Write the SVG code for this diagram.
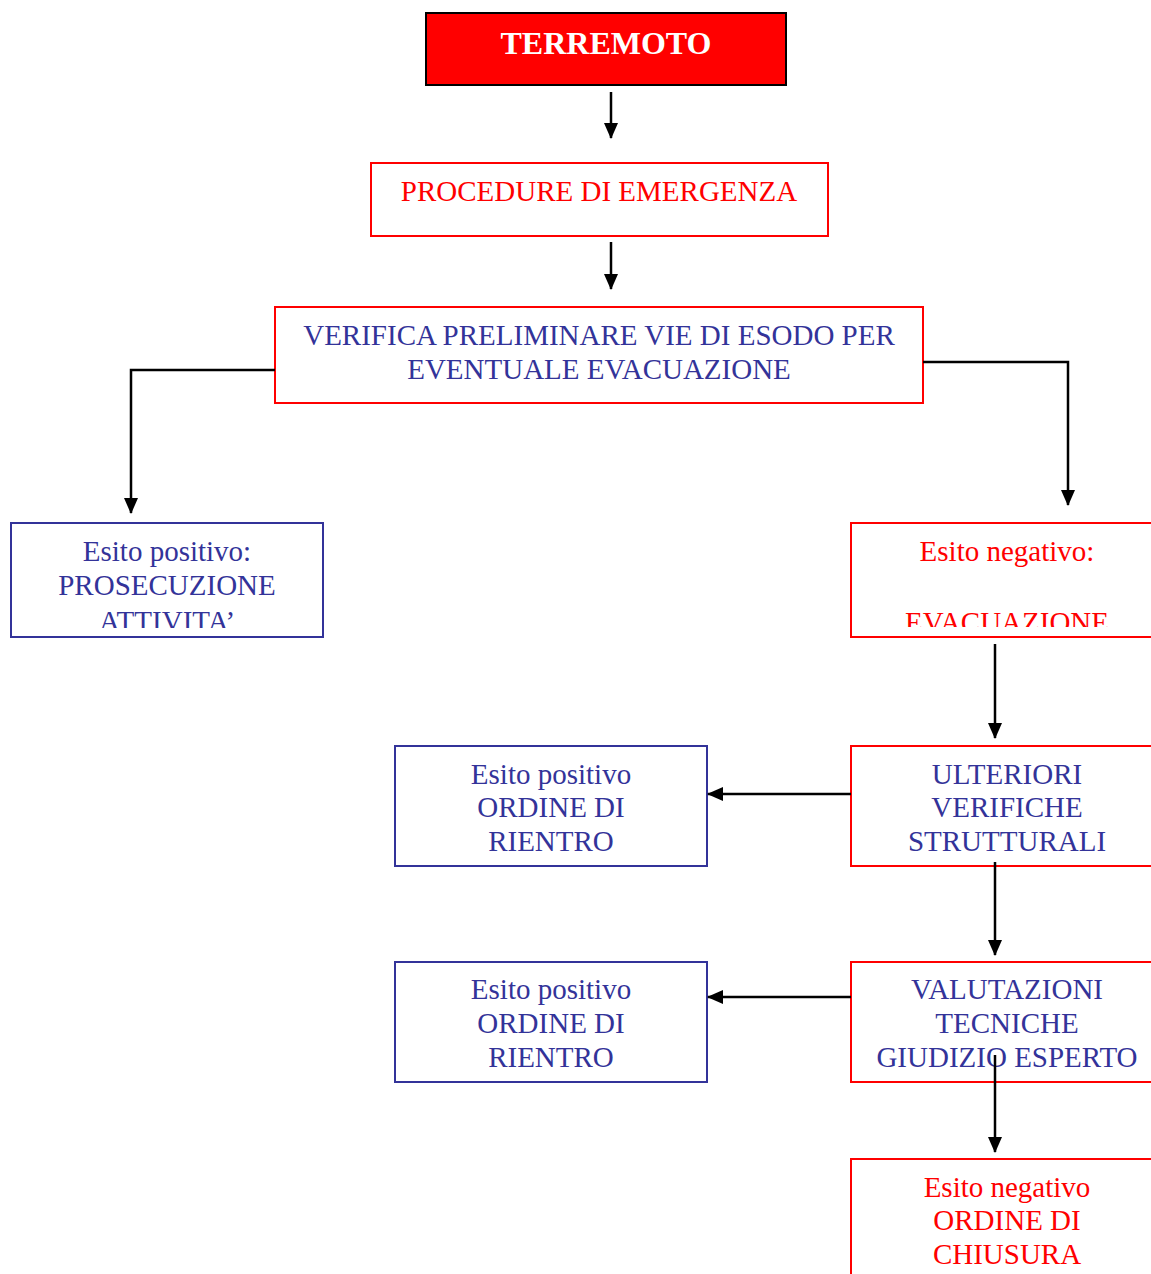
<svg xmlns="http://www.w3.org/2000/svg" width="1151" height="1274" viewBox="0 0 1151 1274">
<defs>
<marker id="ahb" viewBox="0 0 16 16" markerWidth="16" markerHeight="16" refX="15" refY="8" orient="auto" markerUnits="userSpaceOnUse"><path d="M0,1 L16,8 L0,15 Z" fill="#000"/></marker>
<clipPath id="c1"><rect x="11" y="523" width="313" height="105"/></clipPath>
<clipPath id="c2"><rect x="851" y="523" width="300" height="104"/></clipPath>
</defs>
<style>
text{font-family:"Liberation Serif","Times New Roman",serif;font-size:29px;text-anchor:middle}
.r{fill:#FF0000}
.b{fill:#333399}
.br{fill:#fff;stroke:#FF0000;stroke-width:2}
.bb{fill:#fff;stroke:#333399;stroke-width:2}
.c{fill:none;stroke:#000;stroke-width:2.5;marker-end:url(#ahb)}
</style>
<g id="terremoto"><rect x="426" y="13" width="360" height="72" fill="#FF0000" stroke="#000" stroke-width="2"/><text x="606" y="54" fill="#fff" font-weight="bold" style="font-size:32px">TERREMOTO</text></g>
<g id="procedure"><rect class="br" x="371" y="163" width="457" height="73"/><text class="r" x="599" y="201">PROCEDURE DI EMERGENZA</text></g>
<g id="verifica"><rect class="br" x="275" y="307" width="648" height="96"/><text class="b" x="599" y="345">VERIFICA PRELIMINARE VIE DI ESODO PER</text><text class="b" x="599" y="379">EVENTUALE EVACUAZIONE</text></g>
<g id="esito-pos1"><rect class="bb" x="11" y="523" width="312" height="114"/><g clip-path="url(#c1)"><text class="b" x="167" y="561">Esito positivo:</text><text class="b" x="167" y="595">PROSECUZIONE</text><text class="b" x="167" y="631">ATTIVITA’</text></g></g>
<g id="esito-neg1"><rect class="br" x="851" y="523" width="310" height="114"/><g clip-path="url(#c2)"><text class="r" x="1007" y="561">Esito negativo:</text><text class="r" x="1007" y="632">EVACUAZIONE</text></g></g>
<g id="rientro1"><rect class="bb" x="395" y="746" width="312" height="120"/><text class="b" x="551" y="784">Esito positivo</text><text class="b" x="551" y="817">ORDINE DI</text><text class="b" x="551" y="851">RIENTRO</text></g>
<g id="ulteriori"><rect class="br" x="851" y="746" width="310" height="120"/><text class="b" x="1007" y="784">ULTERIORI</text><text class="b" x="1007" y="817">VERIFICHE</text><text class="b" x="1007" y="851">STRUTTURALI</text></g>
<g id="rientro2"><rect class="bb" x="395" y="962" width="312" height="120"/><text class="b" x="551" y="999">Esito positivo</text><text class="b" x="551" y="1033">ORDINE DI</text><text class="b" x="551" y="1067">RIENTRO</text></g>
<g id="valutazioni"><rect class="br" x="851" y="962" width="310" height="120"/><text class="b" x="1007" y="999">VALUTAZIONI</text><text class="b" x="1007" y="1033">TECNICHE</text><text class="b" x="1007" y="1067">GIUDIZIO ESPERTO</text></g>
<g id="chiusura"><rect class="br" x="851" y="1159" width="310" height="130"/><text class="r" x="1007" y="1197">Esito negativo</text><text class="r" x="1007" y="1230">ORDINE DI</text><text class="r" x="1007" y="1264">CHIUSURA</text></g>
<g id="connectors">
<path class="c" d="M611,92 V138"/>
<path class="c" d="M611,242 V289"/>
<path class="c" d="M275,370 H131 V513"/>
<path class="c" d="M923,362 H1068 V505"/>
<path class="c" d="M995,644 V738"/>
<path class="c" d="M851,794 H708"/>
<path class="c" d="M995,862 V955"/>
<path class="c" d="M851,997 H708"/>
<path class="c" d="M995,1055 V1152"/>
</g>
</svg>
